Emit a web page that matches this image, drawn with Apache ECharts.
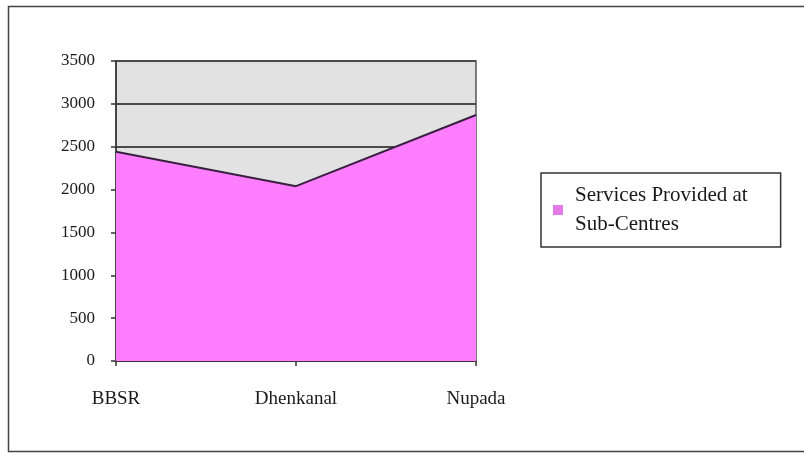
<!DOCTYPE html>
<html>
<head>
<meta charset="utf-8">
<script src="https://cdn.jsdelivr.net/npm/echarts@6/dist/echarts.min.js"></script>
<style>
html,body{margin:0;padding:0;background:#fff;}
#c{width:804px;height:454px;}
</style>
</head>
<body>
<div id="c"></div>
<script>
const categories = ['BBSR', 'Dhenkanal', 'Nupada'];
const services = [2440, 2040, 2870];
const yTicks = [0, 500, 1000, 1500, 2000, 2500, 3000, 3500];
const seriesName = 'Services Provided at\nSub-Centres';

const chart = echarts.init(document.getElementById('c'), null, {renderer: 'canvas'});
const font = '"Liberation Serif", "Times New Roman", serif';
chart.setOption({
  animation: false,
  backgroundColor: '#fff',
  grid: {
    left: 116, right: 328, top: 61, bottom: 93,
    show: true, backgroundColor: '#e2e2e2', borderColor: '#555', borderWidth: 1.5
  },
  legend: {
    show: true,
    left: 541, top: 173,
    orient: 'vertical',
    backgroundColor: '#fff',
    borderColor: '#333', borderWidth: 1.5,
    padding: [8, 33, 8, 12],
    itemWidth: 10, itemHeight: 10,
    icon: 'rect',
    textStyle: {fontFamily: font, fontSize: 21, color: '#1a1a1a', lineHeight: 29, padding: [0, 0, 0, 7]},
    data: [{name: seriesName, itemStyle: {color: '#e47ae8', borderWidth: 0}}]
  },
  xAxis: {
    type: 'category',
    data: categories,
    boundaryGap: false,
    axisLine: {lineStyle: {color: '#333', width: 1.5}},
    axisTick: {show: true, length: 5, lineStyle: {color: '#333', width: 1.5}},
    axisLabel: {fontFamily: font, fontSize: 19, color: '#1a1a1a', margin: 29},
    splitLine: {show: false}
  },
  yAxis: {
    type: 'value',
    min: yTicks[0], max: yTicks[yTicks.length - 1], interval: 500,
    axisLine: {show: true, lineStyle: {color: '#333', width: 1.5}},
    axisTick: {show: true, length: 5, lineStyle: {color: '#333', width: 1.5}},
    axisLabel: {fontFamily: font, fontSize: 17, color: '#1a1a1a', margin: 21,
      formatter: function (v) { return String(v); }},
    splitLine: {show: true, lineStyle: {color: '#4a4a4a', width: 1.8}}
  },
  graphic: [{
    type: 'rect', shape: {x: 8.5, y: 6.5, width: 800, height: 445},
    style: {fill: 'none', stroke: '#444', lineWidth: 1.5}, silent: true
  }],
  series: [{
    name: seriesName,
    type: 'line',
    data: services,
    symbol: 'none',
    lineStyle: {color: '#3a2040', width: 2},
    areaStyle: {color: '#ff7dff', opacity: 1},
    itemStyle: {color: '#e47ae8'}
  }]
});
</script>
</body>
</html>
